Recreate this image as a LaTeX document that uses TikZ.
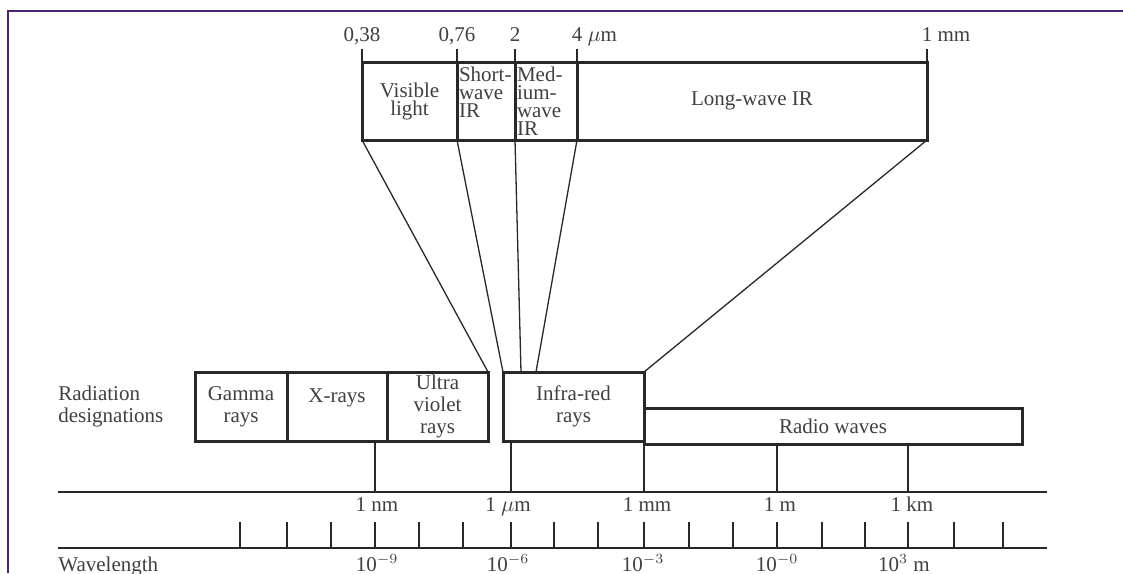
\documentclass[tikz,border=0pt]{standalone}
\usepackage{fontspec}
\setmainfont{Liberation Serif}
\usepackage{tikz}
\usetikzlibrary{positioning}
\definecolor{framepurple}{RGB}{72,38,112}
\definecolor{ink}{RGB}{40,40,40}

\begin{document}
\begin{tikzpicture}[
  x=0.5pt, y=-0.5pt,
  cell/.style={draw=ink, line width=1.5pt, anchor=north west, outer sep=0pt, inner sep=1pt, text=black!75, align=center},
  topcell/.style={cell, minimum height=39pt, font=\fontsize{10.5}{9}\selectfont},
  lowcell/.style={cell, minimum height=34.5pt, font=\fontsize{10.5}{11}\selectfont},
  lbl/.style={inner sep=0pt, text=black!75, font=\fontsize{10.5}{11}\selectfont},
  toplbl/.style={lbl, anchor=base, text depth=0pt, inner ysep=4pt},
  thinline/.style={draw=ink, line width=0.65pt},
  frame/.style={draw=framepurple, line width=1.3pt},
]
  \useasboundingbox[fill=white] (0,0) rectangle (1123,573);
  \draw[frame] (8,573) -- (8,11) -- (1123,11);

  % Infra-red sub-ranges
  \node[topcell, minimum width=47.5pt] (vis) at (362,62) {Visible\\light};
  \node[topcell, minimum width=29pt, text width=27pt, align=left] (swir) at (vis.north east) {Short-\\wave\\IR\\\mbox{}};
  \node[topcell, minimum width=31pt, text width=29pt, align=left] (mwir) at (swir.north east) {Med-\\ium-\\wave\\IR};
  \node[topcell, minimum width=175pt] (lwir) at (mwir.north east) {Long-wave IR};

  \node[toplbl] (w038) at (362,41) {0,38};
  \node[toplbl] (w076) at (457,41) {0,76};
  \node[toplbl] (w2) at (515,41) {2};
  \node[toplbl] (w4) at (577,41) {4\rlap{\ $\mu$m}};
  \node[toplbl] (w1mm) at (927,41) {1\rlap{\ mm}};
  \draw[thinline] (w038.south) -- (vis.north west);
  \draw[thinline] (w076.south) -- (swir.north west);
  \draw[thinline] (w2.south) -- (mwir.north west);
  \draw[thinline] (w4.south) -- (lwir.north west);
  \draw[thinline] (w1mm.south) -- (lwir.north east);

  % Radiation designations
  \node[lbl, anchor=west, align=left] (desig) at (58,406) {Radiation\\designations};
  \node[lowcell, minimum width=46pt] (gamma) at (195,372) {Gamma\\rays};
  \node[lowcell, minimum width=50pt] (xray) at (gamma.north east) {X-rays\\\mbox{}};
  \node[lowcell, minimum width=50.5pt] (uv) at (xray.north east) {Ultra\\violet\\rays};
  \node[lowcell, minimum width=70.5pt] (ir) at (503,372) {Infra-red\\rays};
  \node[cell, minimum width=189pt, minimum height=18pt, font=\fontsize{10.5}{11}\selectfont] (radio) at (644,408) {Radio waves};

  % Fan-out to the infra-red box
  \coordinate (irB) at (521,372);
  \coordinate (irC) at (536,372);
  \draw[thinline] (vis.south west) -- (uv.north east);
  \draw[thinline] (swir.south west) -- (ir.north west);
  \draw[thinline] (mwir.south west) -- (irB);
  \draw[thinline] (lwir.south west) -- (irC);
  \draw[thinline] (lwir.south east) -- (ir.north east);

  % Wavelength scales
  \coordinate (axL) at (58,492);
  \coordinate (axR) at (1047,492);
  \coordinate (scL) at (58,548);
  \coordinate (scR) at (1047,548);
  \draw[thinline] (axL) -- (axR);
  \draw[thinline] (scL) -- (scR);

  \coordinate (t1nm) at (375,492);
  \coordinate (t1um) at (511,492);
  \coordinate (t1mm) at (644,492);
  \coordinate (t1m) at (777,492);
  \coordinate (t1km) at (908,492);
  \draw[thinline] (xray.south -| t1nm) -- (t1nm);
  \draw[thinline] (ir.south -| t1um) -- (t1um);
  \draw[thinline] (radio.south west) -- (t1mm);
  \draw[thinline] (radio.south -| t1m) -- (t1m);
  \draw[thinline] (radio.south -| t1km) -- (t1km);

  \node[lbl, anchor=base] (l1nm) at (377,511) {1 nm};
  \node[lbl, anchor=base] (l1um) at (508,511) {1 $\mu$m};
  \node[lbl, anchor=base] (l1mm) at (647,511) {1 mm};
  \node[lbl, anchor=base] (l1m) at (780,511) {1 m};
  \node[lbl, anchor=base] (l1km) at (912,511) {1 km};

  \foreach \x in {240,287,331,375,419,463,511,554,598,644,689,733,777,822,865,908,954,1003}
    \draw[thinline] (\x,522) -- (\x,548);

  \node[lbl, anchor=base west] (wl) at (58,571) {Wavelength};
  \node[lbl, anchor=base] (e9) at (377,571) {10$^{-9}$};
  \node[lbl, anchor=base] (e6) at (508,571) {10$^{-6}$};
  \node[lbl, anchor=base] (e3) at (643,571) {10$^{-3}$};
  \node[lbl, anchor=base] (e0) at (777,571) {10$^{-0}$};
  \node[lbl, anchor=base] (ep3) at (904,571) {10$^{3}$ m};

\end{tikzpicture}
\end{document}
